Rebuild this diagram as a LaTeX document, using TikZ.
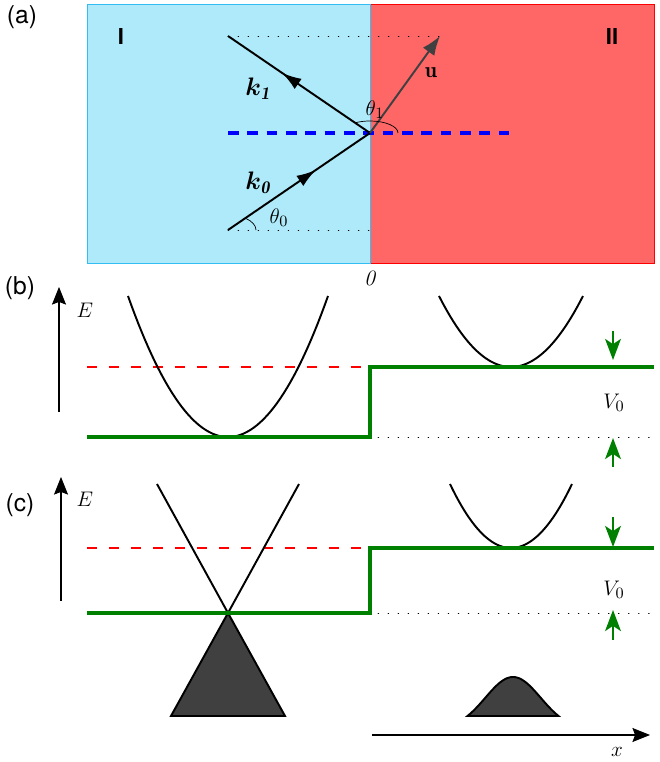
\documentclass[tikz,border=0pt]{standalone}
\usepackage{amsmath,bm}
\usepackage{fontspec}
\newfontfamily\panelfont{TeX Gyre Heros}
\usetikzlibrary{positioning, calc, arrows.meta, decorations.markings}

\definecolor{regionI}{RGB}{174,234,249}
\definecolor{regionII}{RGB}{255,102,102}
\definecolor{potgreen}{RGB}{0,128,0}
\definecolor{bandfill}{gray}{0.25}

\tikzset{
    band/.style={line width=1.1pt},
    potential/.style={draw=potgreen, line width=2.6pt},
    fermi/.style={red, line width=0.6pt, dash pattern=on 5.7pt off 6.8pt},
    guide/.style={line width=0.4pt, dash pattern=on 0.4pt off 5.3pt, line cap=round},
    gaparrow/.style={potgreen, line width=1.2pt, -{Stealth[length=12pt,width=9pt,inset=3pt]}},
    axis/.style={line width=0.6pt, -{Stealth[length=10pt,width=8pt,inset=1.5pt]}},
    midarrow/.style={postaction={decorate}, decoration={markings, mark=at position #1 with {\arrow{Latex[length=11pt,width=7pt]}}}},
    panel/.style={font=\panelfont\fontsize{14}{16}\selectfont},
    region/.style={font=\panelfont\bfseries\fontsize{12.5}{14}\selectfont},
    mathlabel/.style={font=\fontsize{12.5}{14}\selectfont}
}

\begin{document}
\begin{tikzpicture}
    \useasboundingbox (0,0) rectangle (13.18,15.24);

    % (a) refraction at the step
    \fill[regionII, draw=red] (7.40,9.98) rectangle (13.08,15.16);
    \fill[regionI, draw=cyan!80] (1.74,9.98) rectangle (7.40,15.16);
    \node[panel] (pa) at (0.44,14.90) {(a)};
    \node[region] (rI) at (2.42,14.50) {I};
    \node[region] (rII) at (12.24,14.50) {II};
    \node[mathlabel, anchor=north] (zero) at (7.40,9.94) {\textit{0}};

    \coordinate (O) at (7.40,12.58);
    \coordinate (k0start) at (4.56,10.64);
    \coordinate (k1end) at (4.56,14.52);
    \coordinate (utip) at (8.80,14.52);
    \coordinate (dashend) at (10.24,12.58);

    \draw[guide] (k1end) -- (utip);
    \draw[guide] (k0start) -- (O |- k0start);
    \draw[blue, line width=2.3pt, dash pattern=on 6pt off 5pt] (k0start |- O) -- (dashend);
    \draw[band, midarrow=0.62] (k0start) -- (O);
    \draw[band, midarrow=0.62] (O) -- (k1end);
    \draw[black!75, line width=1.1pt, -{Latex[length=11pt,width=8pt]}] (O) -- (utip);
    \draw (O) ++(0.56,0) arc[start angle=0, end angle=122, x radius=0.56, y radius=0.24];
    \draw (k0start) ++(0.56,0) arc[start angle=0, end angle=52, x radius=0.56, y radius=0.30];

    \node[font=\fontsize{14.5}{16}\selectfont] (k1) at (5.16,13.46) {$\bm{k}_{\bm{\mathit{1}}}$};
    \node[font=\fontsize{14.5}{16}\selectfont] (k0) at (5.16,11.58) {$\bm{k}_{\bm{\mathit{0}}}$};
    \node[mathlabel] (u) at (8.62,13.78) {$\mathbf{u}$};
    \node[mathlabel] (th1) at (7.50,13.05) {$\theta_1$};
    \node[mathlabel] (th0) at (5.58,10.88) {$\theta_0$};

    % (b) Schroedinger electrons
    \node[panel] (pb) at (0.40,9.48) {(b)};
    \coordinate (Eb0) at (1.18,7.00);
    \coordinate (Eb1) at (1.18,9.50);
    \draw[axis] (Eb0) -- (Eb1);
    \node[mathlabel] (Eb) at (1.70,9.04) {$E$};
    \draw[fermi] (1.74,7.90) -- (7.40,7.90);
    \draw[guide] (7.56,6.50) -- (13.08,6.50);
    \draw[band] plot[domain=-2:2, samples=60] ({4.56+\x},{6.50+0.705*\x*\x});
    \draw[band] plot[domain=-1.44:1.44, samples=50] ({10.22+\x},{7.90+0.685*\x*\x});
    \draw[potential] (1.74,6.50) -- (7.40,6.50) -- (7.40,7.90) -- (13.08,7.90);
    \coordinate (Vb0) at (12.26,8.62);
    \coordinate (Vb1) at (12.26,8.04);
    \coordinate (Vb2) at (12.26,5.90);
    \coordinate (Vb3) at (12.26,6.48);
    \draw[gaparrow] (Vb0) -- (Vb1);
    \draw[gaparrow] (Vb2) -- (Vb3);
    \node[mathlabel] (Vb) at (12.28,7.18) {$V_0$};

    % (c) Dirac electrons
    \node[panel] (pc) at (0.40,5.14) {(c)};
    \coordinate (Ec0) at (1.22,3.22);
    \coordinate (Ec1) at (1.22,5.70);
    \draw[axis] (Ec0) -- (Ec1);
    \node[mathlabel] (Ec) at (1.70,5.26) {$E$};
    \draw[fermi] (1.74,4.28) -- (7.40,4.28);
    \draw[guide] (7.56,2.98) -- (13.08,2.98);
    \coordinate (D) at (4.56,2.98);
    \draw[band] (3.14,5.56) -- (D) -- (5.98,5.56);
    \filldraw[band, fill=bandfill] (D) -- (3.42,0.92) -- (5.70,0.92) -- cycle;
    \draw[band] plot[domain=-1.22:1.22, samples=50] ({10.22+\x},{4.28+0.86*\x*\x});
    \filldraw[band, fill=bandfill] plot[domain=-0.91:0.91, samples=50] ({10.26+\x},{0.92+0.78*(exp(-(\x/0.78)^2)-0.2564)/0.7436}) -- cycle;
    \draw[potential] (1.74,2.98) -- (D) -- (7.40,2.98) -- (7.40,4.28) -- (13.08,4.28);
    \coordinate (Vc0) at (12.26,4.90);
    \coordinate (Vc1) at (12.26,4.30);
    \coordinate (Vc2) at (12.26,2.44);
    \coordinate (Vc3) at (12.26,3.04);
    \draw[gaparrow] (Vc0) -- (Vc1);
    \draw[gaparrow] (Vc2) -- (Vc3);
    \node[mathlabel] (Vc) at (12.28,3.44) {$V_0$};

    \coordinate (x0) at (7.44,0.54);
    \coordinate (x1) at (13.00,0.54);
    \draw[axis] (x0) -- (x1);
    \node[mathlabel] (xl) at (12.34,0.20) {$x$};
\end{tikzpicture}
\end{document}
